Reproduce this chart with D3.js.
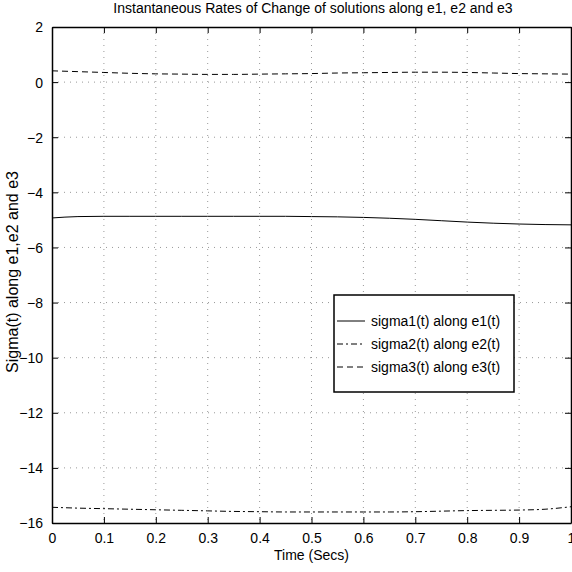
<!DOCTYPE html>
<html>
<head>
<meta charset="utf-8">
<script src="https://cdn.jsdelivr.net/npm/d3@7"></script>
<style>
body { margin: 0; background: #fff; }
text { font-family: "Liberation Sans", Arial, sans-serif; }
</style>
</head>
<body>
<script>
const width = 572;
const height = 572;
const margin = {top: 27, right: 1, bottom: 49, left: 52};

// time samples (secs)
const times = [0, 0.05, 0.1, 0.15, 0.2, 0.25, 0.3, 0.35, 0.4, 0.45, 0.5, 0.55, 0.6, 0.65, 0.7, 0.75, 0.8, 0.85, 0.9, 0.95, 1];
// series
const sigma1 = [-4.93, -4.88, -4.87, -4.87, -4.87, -4.87, -4.87, -4.87, -4.87, -4.87, -4.88, -4.89, -4.91, -4.94, -4.98, -5.03, -5.08, -5.12, -5.15, -5.17, -5.18];
const sigma2 = [-15.43, -15.46, -15.48, -15.5, -15.52, -15.54, -15.56, -15.58, -15.59, -15.6, -15.6, -15.6, -15.6, -15.6, -15.59, -15.57, -15.55, -15.54, -15.53, -15.5, -15.41];
const sigma3 = [0.41, 0.38, 0.35, 0.32, 0.3, 0.29, 0.28, 0.28, 0.29, 0.3, 0.31, 0.33, 0.34, 0.35, 0.36, 0.36, 0.35, 0.33, 0.31, 0.3, 0.29];

const xTicks = [0, 0.1, 0.2, 0.3, 0.4, 0.5, 0.6, 0.7, 0.8, 0.9, 1];
const yTicks = [2, 0, -2, -4, -6, -8, -10, -12, -14, -16];
const legendLabels = ["sigma1(t) along e1(t)", "sigma2(t) along e2(t)", "sigma3(t) along e3(t)"];
const dashes = [null, "6,3,2,3", "6,4"];

const svg = d3.select("body").append("svg")
	.attr("width", width)
	.attr("height", height);

const x = d3.scaleLinear().domain([0, 1]).range([margin.left, width - margin.right]);
const y = d3.scaleLinear().domain([-16, 2]).range([height - margin.bottom, margin.top]);

// grid
svg.append("g").selectAll("line")
	.data(xTicks.slice(1, -1))
	.enter().append("line")
	.attr("x1", (d) => x(d)).attr("x2", (d) => x(d))
	.attr("y1", y(2)).attr("y2", y(-16))
	.attr("stroke", "#999").attr("stroke-dasharray", "1,5");
svg.append("g").selectAll("line")
	.data(yTicks.slice(1, -1))
	.enter().append("line")
	.attr("y1", (d) => y(d)).attr("y2", (d) => y(d))
	.attr("x1", x(0)).attr("x2", x(1))
	.attr("stroke", "#999").attr("stroke-dasharray", "1,5");

// axes (ticks inside)
const fmt = (d) => d === 0 || d === 1 ? String(d) : d3.format(".1f")(d);
const yfmt = (d) => d < 0 ? "\u2212" + Math.abs(d) : String(d);

const gx = svg.append("g")
	.attr("transform", "translate(0," + y(-16) + ")")
	.call(d3.axisBottom(x).tickValues(xTicks).tickSizeInner(-6).tickSizeOuter(0).tickPadding(10).tickFormat(fmt));
const gxt = svg.append("g")
	.attr("transform", "translate(0," + y(2) + ")")
	.call(d3.axisTop(x).tickValues(xTicks).tickSizeInner(-6).tickSizeOuter(0).tickFormat(""));
const gy = svg.append("g")
	.attr("transform", "translate(" + x(0) + ",0)")
	.call(d3.axisLeft(y).tickValues(yTicks).tickSizeInner(-6).tickSizeOuter(0).tickPadding(9).tickFormat(yfmt));
const gyr = svg.append("g")
	.attr("transform", "translate(" + x(1) + ",0)")
	.call(d3.axisRight(y).tickValues(yTicks).tickSizeInner(-6).tickSizeOuter(0).tickFormat(""));

[gx, gxt, gy, gyr].forEach((g) => {
	g.select(".domain").attr("stroke", "#000").attr("stroke-width", 1.5);
	g.selectAll(".tick line").attr("stroke", "#000");
	g.selectAll("text").attr("font-size", 14).attr("fill", "#000")
		.style("font-family", "'Liberation Sans', Arial, sans-serif");
});
gy.selectAll("text").attr("dy", "0.35em");

// lines
const line = d3.line()
	.x((d, i) => x(times[i]))
	.y((d) => y(d))
	.curve(d3.curveMonotoneX);

[sigma1, sigma2, sigma3].forEach((s, i) => {
	svg.append("path")
		.datum(s)
		.attr("fill", "none")
		.attr("stroke", "#000")
		.attr("stroke-width", 1)
		.attr("stroke-dasharray", dashes[i])
		.attr("d", line);
});

// title and labels
svg.append("text")
	.attr("x", 313).attr("y", 13)
	.attr("text-anchor", "middle").attr("font-size", 14)
	.text("Instantaneous Rates of Change of solutions along e1, e2 and e3");
svg.append("text")
	.attr("x", (x(0) + x(1)) / 2).attr("y", 560)
	.attr("text-anchor", "middle").attr("font-size", 14)
	.text("Time (Secs)");
svg.append("text")
	.attr("transform", "translate(18,272) rotate(-90)")
	.attr("text-anchor", "middle").attr("font-size", 16)
	.text("Sigma(t) along e1,e2 and e3");

// legend
const lg = svg.append("g").attr("transform", "translate(334,295)");
lg.append("rect")
	.attr("width", 180).attr("height", 97)
	.attr("fill", "#fff").attr("stroke", "#000").attr("stroke-width", 1.5);
legendLabels.forEach((t, i) => {
	const yy = 26 + i * 23;
	lg.append("line")
		.attr("x1", 3).attr("x2", 31).attr("y1", yy).attr("y2", yy)
		.attr("stroke", "#000").attr("stroke-dasharray", dashes[i]);
	lg.append("text")
		.attr("x", 37).attr("y", yy).attr("dy", "0.35em")
		.attr("font-size", 14).text(t);
});
</script>
</body>
</html>
